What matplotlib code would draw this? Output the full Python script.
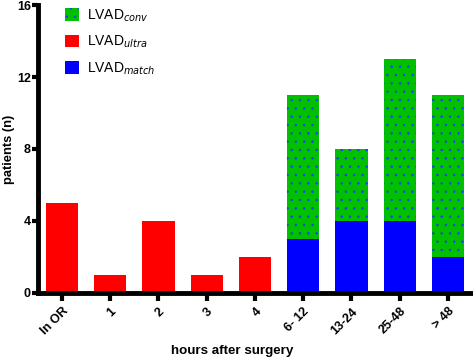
import numpy as np
import matplotlib
matplotlib.use("Agg")
import matplotlib.pyplot as plt
from matplotlib.patches import Patch

plt.rcParams['font.family'] = ['Liberation Sans', 'DejaVu Sans']
plt.rcParams['hatch.color'] = '#1a3cff'
plt.rcParams['hatch.linewidth'] = 0.5

# data
categories = ['In OR', '1', '2', '3', '4', '6- 12', '13-24', '25-48', '> 48']
ultra = [5, 1, 4, 1, 2, 0, 0, 0, 0]
match = [0, 0, 0, 0, 0, 3, 4, 4, 2]
conv = [0, 0, 0, 0, 0, 8, 4, 9, 9]

x = np.arange(len(categories))
width = 0.67

fig = plt.figure(figsize=(4.73, 3.59), dpi=100)
ax = fig.add_axes([0.080, 0.184, 0.920, 0.802])

ax.bar(x, ultra, width, color='#ff0000', linewidth=0)
ax.bar(x, match, width, color='#0000ff', linewidth=0)
ax.bar(x, conv, width, bottom=match, color='#00c000', linewidth=0, hatch='..')

ax.set_xlim(-0.5, 8.52)
ax.set_ylim(0, 16)
ax.set_yticks([0, 4, 8, 12, 16])
ax.set_xticks(x)
ax.set_xticklabels(categories, rotation=45, ha='right', rotation_mode='anchor')

for s in ['top', 'right']:
    ax.spines[s].set_visible(False)
for s in ['left', 'bottom']:
    ax.spines[s].set_linewidth(3.5)

ax.tick_params(axis='x', length=6, width=3, labelsize=9, pad=3)
ax.tick_params(axis='y', length=4, width=3, labelsize=9, pad=1)
for lbl in ax.get_xticklabels() + ax.get_yticklabels():
    lbl.set_fontweight('bold')

ax.set_xlabel('hours after surgery', fontsize=9.6, fontweight='bold')
ax.xaxis.set_label_coords(0.446, -0.182)
ax.set_ylabel('patients (n)', fontsize=9.3, fontweight='bold')
ax.yaxis.set_label_coords(-0.053, 0.5)

handles = [Patch(facecolor='#00c000', hatch='..', linewidth=0),
           Patch(facecolor='#ff0000', linewidth=0),
           Patch(facecolor='#0000ff', linewidth=0)]
labels = ['LVAD$_{conv}$', 'LVAD$_{ultra}$', 'LVAD$_{match}$']
ax.legend(handles, labels, loc='upper left', bbox_to_anchor=(0.033, 1.035),
          frameon=False, fontsize=10, handlelength=1.0, handleheight=1.0,
          labelspacing=0.72, handletextpad=0.6)

fig.savefig('out.png', dpi=100)
